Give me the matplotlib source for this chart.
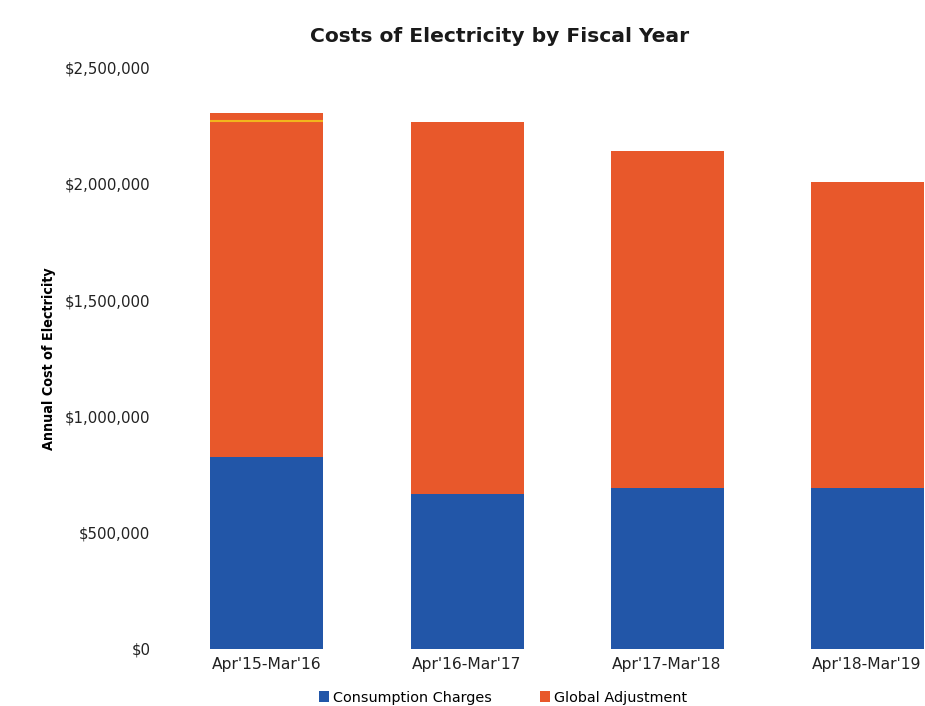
import matplotlib.pyplot as plt
from matplotlib.ticker import FuncFormatter

# Fiscal-year electricity costs
years = ["Apr'15-Mar'16", "Apr'16-Mar'17", "Apr'17-Mar'18", "Apr'18-Mar'19"]
consumption = [826000, 667000, 693000, 693000]
global_adj = [1480000, 1601000, 1450000, 1316000]
# thin yellow line drawn inside the first bar
marker_years = [0]
marker_values = [2272000]

BLUE = "#2256a8"
ORANGE = "#e8582b"
YELLOW = "#f2b51c"

fig = plt.figure(figsize=(9.25, 7.06), dpi=100)
ax = fig.add_axes([0.1805, 0.081, 0.865, 0.823])

width = 0.565
x = list(range(len(years)))
ax.bar(x, consumption, width, color=BLUE, label="Consumption Charges")
ax.bar(x, global_adj, width, bottom=consumption, color=ORANGE, label="Global Adjustment")
ax.hlines(marker_values, [i - width / 2 for i in marker_years],
          [i + width / 2 for i in marker_years], colors=YELLOW, lw=1.5)

ax.set_xlim(-0.5, 3.5)
ax.set_ylim(0, 2500000)
ax.set_yticks(range(0, 2500001, 500000))
ax.yaxis.set_major_formatter(FuncFormatter(lambda v, _: f"${v:,.0f}"))
ax.set_xticks(x)
ax.set_xticklabels(years, fontsize=11.2, color="#222222")
ax.tick_params(axis="y", labelsize=10.8, colors="#222222", length=0, pad=12)
ax.tick_params(axis="x", length=0, pad=6)
for s in ax.spines.values():
    s.set_visible(False)

ax.set_ylabel("Annual Cost of Electricity", family="DejaVu Sans", fontstretch="condensed",
              fontweight="bold", fontsize=10.3)
ax.yaxis.set_label_coords(-0.139, 0.5)

fig.text(0.54, 0.948, "Costs of Electricity by Fiscal Year", ha="center", va="center",
         fontsize=14.6, fontweight="bold", color="#1a1a1a")

fig.legend(loc="center", bbox_to_anchor=(0.544, 0.012), ncol=2, frameon=False,
           fontsize=10.4, handlelength=0.7, handleheight=0.7, columnspacing=3.3,
           handletextpad=0.3)

plt.savefig("out.png")
plt.close()
